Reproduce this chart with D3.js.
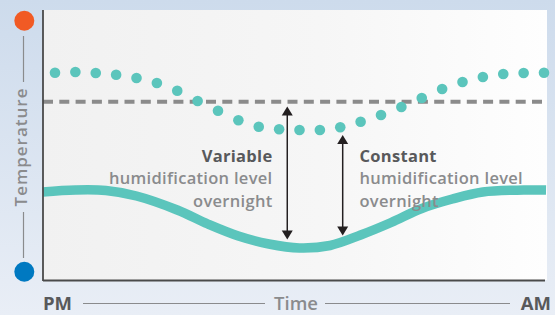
<!DOCTYPE html>
<html>
<head>
<meta charset="utf-8">
<script src="https://cdn.jsdelivr.net/npm/d3@7"></script>
<style>
  html, body { margin: 0; padding: 0; }
  body { width: 555px; height: 315px; overflow: hidden; }
</style>
</head>
<body>
<svg id="chart" width="555" height="315"></svg>
<script>
// night slots (PM -> AM), one dot per slot
const slots = d3.range(25);
// variable humidification: room temperature (dotted)
const variableTemp = [20.73, 20.8, 20.7, 20.53, 20.2, 19.7, 18.93, 17.9, 16.93, 15.97, 15.33, 15.07, 15.0,
  15.0, 15.27, 15.83, 16.5, 17.3, 18.2, 19.1, 19.8, 20.3, 20.6, 20.7, 20.73];
// constant humidification: reference level (dashed)
const constantLevel = 17.83;
// outdoor curve (solid)
const curveX = [-0.6, 1, 2.5, 4, 6, 7.5, 9, 10.5, 12, 13.5, 15, 16.5, 18, 19.5, 21, 23, 24.1];
const curveY = [8.8, 9.0, 8.95, 8.4, 7.0, 5.6, 4.4, 3.6, 3.2, 3.45, 4.5, 5.75, 7.15, 8.1, 8.8, 9.0, 9.0];
// gaps marked with arrows
const arrowX = [11.4, 14.12];
const arrowTop = [17.35, 14.5];
const arrowBottom = [4.05, 4.45];
const labels = [
  ['Variable', 'humidification level', 'overnight'],
  ['Constant', 'humidification level', 'overnight']
];
const xLabels = ['PM', 'Time', 'AM'];
const yLabel = 'Temperature';

const teal = '#5bc5bc';
const font = '"Open Sans", "Liberation Sans", sans-serif';

const svg = d3.select('#chart');
const defs = svg.append('defs');

const bg = defs.append('linearGradient').attr('id', 'bg')
  .attr('x1', 0).attr('y1', 0).attr('x2', 0).attr('y2', 1);
bg.append('stop').attr('offset', '0%').attr('stop-color', '#cddbec');
bg.append('stop').attr('offset', '100%').attr('stop-color', '#e9eef6');

const plotBg = defs.append('linearGradient').attr('id', 'plotBg')
  .attr('x1', 0).attr('y1', 0).attr('x2', 1).attr('y2', 0);
plotBg.append('stop').attr('offset', '0%').attr('stop-color', '#f1f1f1');
plotBg.append('stop').attr('offset', '55%').attr('stop-color', '#f6f6f6');
plotBg.append('stop').attr('offset', '100%').attr('stop-color', '#fefefe');

const plotLeft = 43, plotRight = 547, plotTop = 10, plotBottom = 280;

const x = d3.scaleLinear().domain([0, 24]).range([55, 544]);
const y = d3.scaleLinear().domain([0, 27]).range([plotBottom, plotTop]);

svg.append('rect').attr('width', 555).attr('height', 315).attr('fill', 'url(#bg)');
svg.append('rect')
  .attr('x', plotLeft).attr('y', plotTop)
  .attr('width', plotRight - plotLeft).attr('height', plotBottom - plotTop)
  .attr('fill', 'url(#plotBg)');

// solid curve
const line = d3.line()
  .x((d) => x(d[0]))
  .y((d) => y(d[1]))
  .curve(d3.curveCatmullRom.alpha(0.5));

svg.append('path')
  .datum(d3.zip(curveX, curveY))
  .attr('d', line)
  .attr('fill', 'none')
  .attr('stroke', teal)
  .attr('stroke-width', 9.5);

// dashed level
svg.append('line')
  .attr('x1', plotLeft).attr('x2', plotRight)
  .attr('y1', y(constantLevel)).attr('y2', y(constantLevel))
  .attr('stroke', '#8b8b8b')
  .attr('stroke-width', 4)
  .attr('stroke-dasharray', '10,6.3');

// dots
svg.selectAll('circle.dot')
  .data(slots)
  .enter()
  .append('circle')
  .attr('class', 'dot')
  .attr('cx', (d) => x(d))
  .attr('cy', (d) => y(variableTemp[d]))
  .attr('r', 5.3)
  .attr('fill', teal);

// arrows
arrowX.forEach((ax, i) => {
  const px = x(ax), y0 = y(arrowTop[i]), y1 = y(arrowBottom[i]);
  const g = svg.append('g').attr('fill', '#231f20');
  g.append('line')
    .attr('x1', px).attr('x2', px)
    .attr('y1', y0 + 6).attr('y2', y1 - 6)
    .attr('stroke', '#231f20')
    .attr('stroke-width', 1.5);
  g.append('path').attr('d', `M${px},${y0} L${px - 5.5},${y0 + 9} L${px + 5.5},${y0 + 9} Z`);
  g.append('path').attr('d', `M${px},${y1} L${px - 5.5},${y1 - 9} L${px + 5.5},${y1 - 9} Z`);
});

// annotation labels
const labelPos = [{ x: 272.5, anchor: 'end' }, { x: 359.5, anchor: 'start' }];
labels.forEach((rows, i) => {
  const t = svg.append('text')
    .attr('x', labelPos[i].x)
    .attr('text-anchor', labelPos[i].anchor)
    .style('font-family', font)
    .style('font-size', '16.5px')
    .style('letter-spacing', '0.3px');
  rows.forEach((r, j) => {
    t.append('tspan')
      .attr('x', labelPos[i].x)
      .attr('y', 161.7 + j * 22.5)
      .attr('fill', j === 0 ? '#58595b' : '#8a8b8d')
      .style('font-weight', j === 0 ? 'bold' : '600')
      .text(r);
  });
});

// axes
svg.append('line')
  .attr('x1', plotLeft).attr('x2', plotLeft)
  .attr('y1', plotTop).attr('y2', plotBottom + 1)
  .attr('stroke', '#4a4a4a').attr('stroke-width', 1.8);
svg.append('line')
  .attr('x1', plotLeft).attr('x2', 545)
  .attr('y1', plotBottom + 0.5).attr('y2', plotBottom + 0.5)
  .attr('stroke', '#4a4a4a').attr('stroke-width', 1.8);

// x axis labels
const xLab = svg.append('g')
  .style('font-family', font).style('font-size', '18.5px');
xLab.append('text')
  .attr('x', 43).attr('y', 310)
  .attr('fill', '#58595b').style('font-weight', 'bold')
  .text(xLabels[0]);
xLab.append('text')
  .attr('x', 296).attr('y', 310)
  .attr('text-anchor', 'middle')
  .attr('fill', '#8a8b8d').style('font-weight', '600')
  .text(xLabels[1]);
xLab.append('text')
  .attr('x', 551).attr('y', 310)
  .attr('text-anchor', 'end')
  .attr('fill', '#58595b').style('font-weight', 'bold')
  .text(xLabels[2]);
[[83, 265], [325, 510]].forEach(([a, b]) => {
  svg.append('line')
    .attr('x1', a).attr('x2', b).attr('y1', 303.5).attr('y2', 303.5)
    .attr('stroke', '#8a8b8d').attr('stroke-width', 1.2);
});

// y axis label with temperature markers
svg.append('circle').attr('cx', 24.3).attr('cy', 20.7).attr('r', 10).attr('fill', '#f15a24');
svg.append('circle').attr('cx', 24.3).attr('cy', 271.7).attr('r', 10).attr('fill', '#0079c1');
[[36, 82], [212, 258]].forEach(([a, b]) => {
  svg.append('line')
    .attr('x1', 23.5).attr('x2', 23.5).attr('y1', a).attr('y2', b)
    .attr('stroke', '#8a8b8d').attr('stroke-width', 1.2);
});
svg.append('text')
  .attr('transform', 'translate(27,147) rotate(-90)')
  .attr('text-anchor', 'middle')
  .attr('fill', '#8a8b8d')
  .style('font-family', font).style('font-size', '17px').style('font-weight', '600')
  .style('letter-spacing', '1px')
  .text(yLabel);
</script>
</body>
</html>
